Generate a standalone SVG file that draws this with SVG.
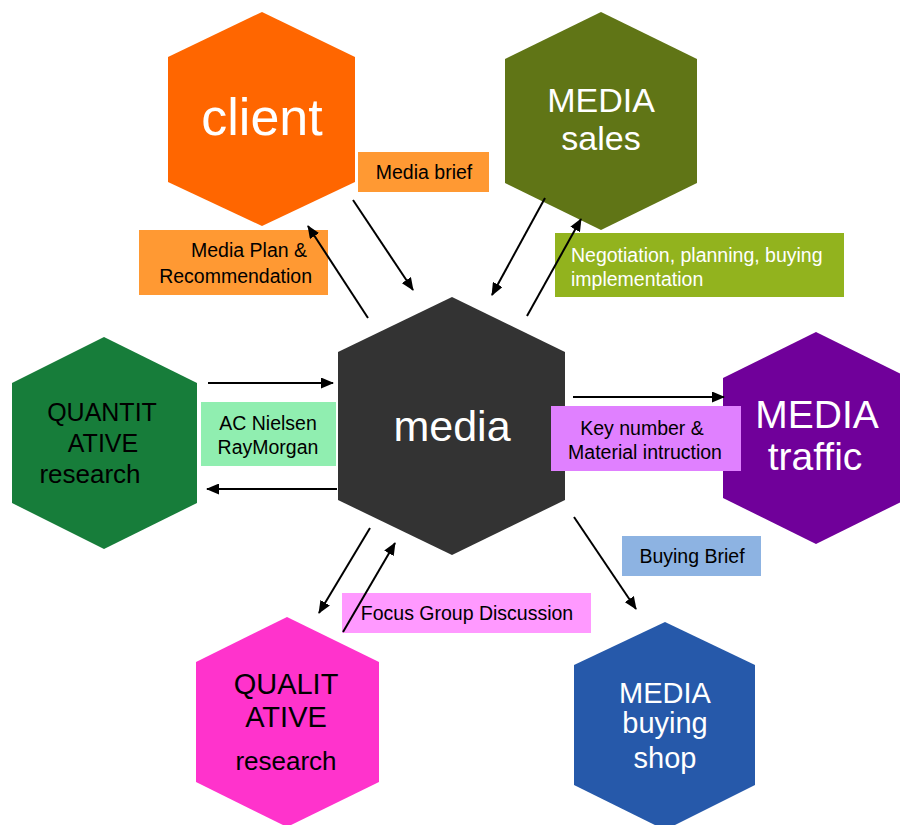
<svg xmlns="http://www.w3.org/2000/svg" width="900" height="825" viewBox="0 0 900 825">
  <defs>
    <marker id="arrow" markerUnits="userSpaceOnUse" markerWidth="13" markerHeight="11" refX="12" refY="5.5" orient="auto">
      <path d="M0,0 L13,5.5 L0,11 z" fill="#000"/>
    </marker>
  </defs>
  <style>
    text { font-family: "Liberation Sans", Arial, sans-serif; }
    .hex-label { fill: #fff; text-anchor: middle; }
    .hex-label-dark { fill: #000; text-anchor: middle; }
    .tag { font-size: 19.5px; fill: #000; text-anchor: middle; }
    .tag-end { font-size: 19.5px; fill: #000; text-anchor: end; }
    .tag-white { font-size: 19.5px; fill: #fff; }
    .link { stroke: #000; stroke-width: 2; fill: none; marker-end: url(#arrow); }
  </style>
  <rect width="900" height="825" fill="#fff"/>

  <!-- hub -->
  <g id="media">
    <polygon points="452,297 565,352 565,500 452,555 338,500 338,352" fill="#333333"/>
    <text class="hex-label" x="452" y="441" font-size="43">media</text>
  </g>

  <g id="client">
    <polygon points="262,12 355,57 355,182 262,226 168,182 168,57" fill="#FF6600"/>
    <text class="hex-label" x="262" y="135" font-size="52">client</text>
  </g>

  <g id="media-sales">
    <polygon points="601,12 697,59 697,183 601,230 505,183 505,59" fill="#607516"/>
    <text class="hex-label" x="601" y="112" font-size="34">MEDIA</text>
    <text class="hex-label" x="601" y="150" font-size="34">sales</text>
  </g>

  <g id="quantitative-research">
    <polygon points="104,337 197,383 197,503 104,549 12,503 12,383" fill="#177D3A"/>
    <text class="hex-label-dark" x="102" y="421" font-size="25">QUANTIT</text>
    <text class="hex-label-dark" x="103" y="452" font-size="25">ATIVE</text>
    <text class="hex-label-dark" x="90" y="483" font-size="26">research</text>
  </g>

  <g id="media-traffic">
    <polygon points="816,332 909,378 909,498 816,544 723,498 723,378" fill="#70009A"/>
    <text class="hex-label" x="817" y="428" font-size="39">MEDIA</text>
    <text class="hex-label" x="815" y="470" font-size="39">traffic</text>
  </g>

  <g id="qualitative-research">
    <polygon points="287,617 379,662 379,782 287,827 196,782 196,662" fill="#FF33CC"/>
    <text class="hex-label-dark" x="286" y="694" font-size="29">QUALIT</text>
    <text class="hex-label-dark" x="286" y="727" font-size="29">ATIVE</text>
    <text class="hex-label-dark" x="286" y="770" font-size="26">research</text>
  </g>

  <g id="media-buying-shop">
    <polygon points="665,622 755,665 755,785 665,830 574,785 574,665" fill="#2659AA"/>
    <text class="hex-label" x="665" y="703" font-size="29">MEDIA</text>
    <text class="hex-label" x="665" y="733" font-size="29">buying</text>
    <text class="hex-label" x="665" y="768" font-size="29">shop</text>
  </g>

  <!-- connector labels -->
  <g id="label-media-brief">
    <rect x="358" y="152" width="131" height="40" fill="#FF9933"/>
    <text class="tag" x="424" y="179">Media brief</text>
  </g>

  <g id="label-media-plan">
    <rect x="139" y="230" width="189" height="65" fill="#FF9933"/>
    <text class="tag-end" x="307" y="257">Media Plan &amp;</text>
    <text class="tag-end" x="312" y="283">Recommendation</text>
  </g>

  <g id="label-negotiation">
    <rect x="555" y="233" width="289" height="64" fill="#92B31E"/>
    <text class="tag-white" x="571" y="262">Negotiation, planning, buying</text>
    <text class="tag-white" x="571" y="286">implementation</text>
  </g>

  <g id="label-nielsen">
    <rect x="201" y="402" width="135" height="64" fill="#90EEB0"/>
    <text class="tag" x="268" y="430">AC Nielsen</text>
    <text class="tag" x="268" y="454">RayMorgan</text>
  </g>

  <g id="label-key-number">
    <rect x="551" y="406" width="190" height="65" fill="#E080FF"/>
    <text class="tag" x="642" y="435">Key number &amp;</text>
    <text class="tag" x="645" y="459">Material  intruction</text>
  </g>

  <g id="label-buying-brief">
    <rect x="622" y="536" width="139" height="40" fill="#8DB3E2"/>
    <text class="tag" x="692" y="563">Buying Brief</text>
  </g>

  <g id="label-focus-group">
    <rect x="342" y="593" width="249" height="40" fill="#FF99FF"/>
    <text class="tag" x="467" y="620">Focus Group Discussion</text>
  </g>

  <!-- connectors, drawn over the labels they cross -->
  <g id="connectors">
    <line class="link" x1="353" y1="200" x2="413" y2="290"/>
    <line class="link" x1="368" y1="318" x2="308" y2="226"/>
    <line class="link" x1="545" y1="198" x2="492" y2="295"/>
    <line class="link" x1="527" y1="316" x2="581" y2="219"/>
    <line class="link" x1="208" y1="383" x2="333" y2="383"/>
    <line class="link" x1="337" y1="489" x2="207" y2="489"/>
    <line class="link" x1="573" y1="397" x2="724" y2="397"/>
    <line class="link" x1="574" y1="517" x2="636" y2="609"/>
    <line class="link" x1="370" y1="528" x2="319" y2="613"/>
    <line class="link" x1="343" y1="632" x2="395" y2="543"/>
  </g>
</svg>
